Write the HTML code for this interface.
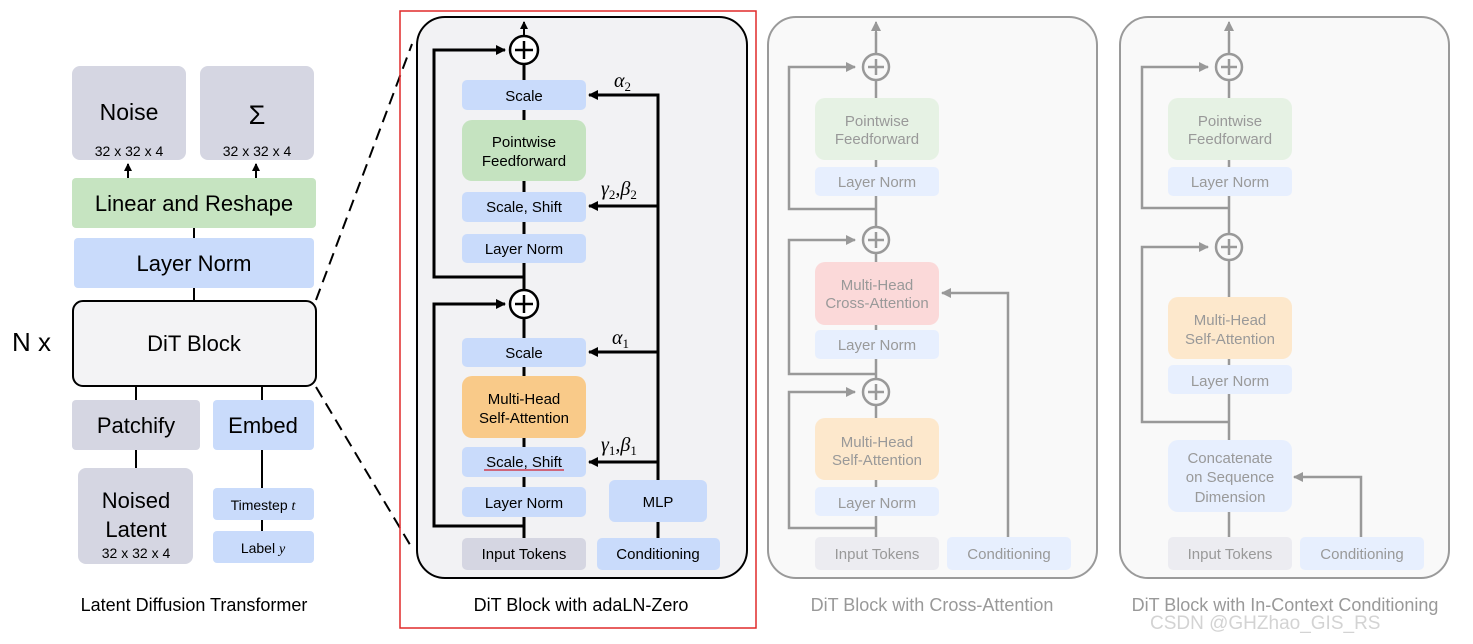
<!DOCTYPE html>
<html><head><meta charset="utf-8"><style>
html,body{margin:0;padding:0;background:#fff;}
svg{display:block;font-family:"Liberation Sans",Arial,sans-serif;}
</style></head><body>
<svg width="1473" height="644" viewBox="0 0 1473 644" xmlns="http://www.w3.org/2000/svg">
<defs>
<marker id="ab" markerWidth="8" markerHeight="8" refX="7" refY="4" orient="auto" markerUnits="userSpaceOnUse"><path d="M0,0 L8,4 L0,8 z" fill="#000"/></marker>
<marker id="ag" markerWidth="10" markerHeight="10" refX="9" refY="5" orient="auto" markerUnits="userSpaceOnUse"><path d="M0,0 L10,5 L0,10 z" fill="#999"/></marker>
<marker id="ak" markerWidth="10" markerHeight="10" refX="9" refY="5" orient="auto" markerUnits="userSpaceOnUse"><path d="M0,0 L10,5 L0,10 z" fill="#000"/></marker>
</defs>

<!-- LEFT PANEL -->
<g stroke="#000" stroke-width="2" fill="none">
<line x1="128" y1="178" x2="128" y2="164" marker-end="url(#ab)"/>
<line x1="256" y1="178" x2="256" y2="164" marker-end="url(#ab)"/>
<line x1="194" y1="228" x2="194" y2="238"/>
<line x1="194" y1="288" x2="194" y2="301"/>
<line x1="136" y1="386" x2="136" y2="468"/>
<line x1="262" y1="386" x2="262" y2="531"/>
</g>
<rect x="72" y="66" width="114" height="94" rx="8" fill="#d5d6e2"/>
<rect x="200" y="66" width="114" height="94" rx="8" fill="#d5d6e2"/>
<text x="129" y="120" font-size="23" text-anchor="middle">Noise</text>
<text x="129" y="156" font-size="14" text-anchor="middle">32 x 32 x 4</text>
<text x="257" y="124" font-size="27" text-anchor="middle">Σ</text>
<text x="257" y="156" font-size="14" text-anchor="middle">32 x 32 x 4</text>
<rect x="72" y="178" width="244" height="50" rx="4" fill="#c6e4c1"/>
<text x="194" y="211" font-size="22" text-anchor="middle">Linear and Reshape</text>
<rect x="74" y="238" width="240" height="50" rx="4" fill="#c9dbfb"/>
<text x="194" y="271" font-size="22" text-anchor="middle">Layer Norm</text>
<rect x="73" y="301" width="243" height="85" rx="10" fill="#f3f3f5" stroke="#000" stroke-width="2"/>
<text x="194" y="351" font-size="22" text-anchor="middle">DiT Block</text>
<text x="12" y="351" font-size="26">N x</text>
<rect x="72" y="400" width="128" height="50" rx="4" fill="#d5d6e2"/>
<text x="136" y="433" font-size="22" text-anchor="middle">Patchify</text>
<rect x="213" y="400" width="101" height="50" rx="4" fill="#c9dbfb"/>
<text x="263" y="433" font-size="22" text-anchor="middle">Embed</text>
<rect x="78" y="468" width="115" height="96" rx="8" fill="#d5d6e2"/>
<text x="136" y="508" font-size="22" text-anchor="middle">Noised</text>
<text x="136" y="537" font-size="22" text-anchor="middle">Latent</text>
<text x="136" y="558" font-size="14" text-anchor="middle">32 x 32 x 4</text>
<rect x="213" y="488" width="101" height="32" rx="4" fill="#c9dbfb"/>
<text x="263" y="510" font-size="14" text-anchor="middle">Timestep <tspan font-family="Liberation Serif" font-style="italic">t</tspan></text>
<rect x="213" y="531" width="101" height="32" rx="4" fill="#c9dbfb"/>
<text x="263" y="553" font-size="14" text-anchor="middle">Label <tspan font-family="Liberation Serif" font-style="italic">y</tspan></text>
<text x="194" y="611" font-size="18" text-anchor="middle">Latent Diffusion Transformer</text>
<line x1="316" y1="300" x2="412" y2="44" stroke="#000" stroke-width="2" stroke-dasharray="12,7"/>
<line x1="316" y1="387" x2="412" y2="548" stroke="#000" stroke-width="2" stroke-dasharray="12,7"/>

<!-- adaLN-Zero -->
<rect x="400" y="11" width="356" height="617" fill="none" stroke="#e02a2a" stroke-width="1.5"/>
<rect x="417" y="17" width="330" height="561" rx="28" fill="#f2f2f4" stroke="#000" stroke-width="2"/>
<g stroke="#000" stroke-width="3" fill="none">
<line x1="524" y1="538" x2="524" y2="36"/>
<line x1="524" y1="36" x2="524" y2="22" stroke-width="2" marker-end="url(#ab)"/>
<polyline points="524,277 434,277 434,50 505,50" marker-end="url(#ak)"/>
<polyline points="524,526 434,526 434,304 505,304" marker-end="url(#ak)"/>
<polyline points="658,480 658,95 589,95" marker-end="url(#ak)"/>
<line x1="658" y1="206" x2="589" y2="206" marker-end="url(#ak)"/>
<line x1="658" y1="352" x2="589" y2="352" marker-end="url(#ak)"/>
<line x1="658" y1="462" x2="589" y2="462" marker-end="url(#ak)"/>
<line x1="658" y1="522" x2="658" y2="538"/>
</g>
<g stroke="#000" stroke-width="2.5" fill="#fff">
<circle cx="524" cy="50" r="14"/><circle cx="524" cy="304" r="14"/>
</g>
<g stroke="#000" stroke-width="2.5">
<line x1="515" y1="50" x2="533" y2="50"/><line x1="524" y1="41" x2="524" y2="59"/>
<line x1="515" y1="304" x2="533" y2="304"/><line x1="524" y1="295" x2="524" y2="313"/>
</g>
<g font-size="15" text-anchor="middle">
<rect x="462" y="80" width="124" height="30" rx="5" fill="#c9dbfb"/><text x="524" y="101">Scale</text>
<rect x="462" y="120" width="124" height="61" rx="10" fill="#c5e3c0"/><text x="524" y="147">Pointwise</text><text x="524" y="166">Feedforward</text>
<rect x="462" y="192" width="124" height="30" rx="5" fill="#c9dbfb"/><text x="524" y="212">Scale, Shift</text>
<rect x="462" y="234" width="124" height="29" rx="5" fill="#c9dbfb"/><text x="524" y="254">Layer Norm</text>
<rect x="462" y="338" width="124" height="29" rx="5" fill="#c9dbfb"/><text x="524" y="358">Scale</text>
<rect x="462" y="376" width="124" height="62" rx="10" fill="#f9ca89"/><text x="524" y="404">Multi-Head</text><text x="524" y="423">Self-Attention</text>
<rect x="462" y="447" width="124" height="30" rx="5" fill="#c9dbfb"/><text x="524" y="467">Scale, Shift</text>
<line x1="484" y1="470" x2="564" y2="470" stroke="#d04050" stroke-width="1.5"/>
<rect x="462" y="487" width="124" height="30" rx="5" fill="#c9dbfb"/><text x="524" y="508">Layer Norm</text>
<rect x="609" y="480" width="98" height="42" rx="6" fill="#c9dbfb"/><text x="658" y="507">MLP</text>
<rect x="462" y="538" width="124" height="32" rx="5" fill="#d5d6e2"/><text x="524" y="559">Input Tokens</text>
<rect x="597" y="538" width="123" height="32" rx="5" fill="#c9dbfb"/><text x="658" y="559">Conditioning</text>
</g>
<g font-family="Liberation Serif" font-style="italic" font-size="20">
<text x="614" y="87">α<tspan font-size="13" font-style="normal" dy="4">2</tspan></text>
<text x="601" y="195">γ<tspan font-size="13" font-style="normal" dy="4">2</tspan><tspan dy="-4">,β</tspan><tspan font-size="13" font-style="normal" dy="4">2</tspan></text>
<text x="612" y="344">α<tspan font-size="13" font-style="normal" dy="4">1</tspan></text>
<text x="601" y="451">γ<tspan font-size="13" font-style="normal" dy="4">1</tspan><tspan dy="-4">,β</tspan><tspan font-size="13" font-style="normal" dy="4">1</tspan></text>
</g>
<text x="581" y="611" font-size="18" text-anchor="middle">DiT Block with adaLN-Zero</text>

<!-- Cross-Attention -->
<rect x="768" y="17" width="329" height="561" rx="28" fill="#f9f9f9" stroke="#9a9a9a" stroke-width="2"/>
<g stroke="#999" stroke-width="2.5" fill="none">
<line x1="876" y1="537" x2="876" y2="32"/>
<line x1="876" y1="32" x2="876" y2="22" stroke-width="2" marker-end="url(#ag)"/>
<polyline points="876,209 789,209 789,67 855,67" marker-end="url(#ag)"/>
<polyline points="876,374 789,374 789,240 855,240" marker-end="url(#ag)"/>
<polyline points="876,528 789,528 789,392 855,392" marker-end="url(#ag)"/>
<polyline points="1008,537 1008,293 942,293" marker-end="url(#ag)"/>
</g>
<g stroke="#999" stroke-width="2.5" fill="#f9f9f9">
<circle cx="876" cy="67" r="13"/><circle cx="876" cy="240" r="13"/><circle cx="876" cy="392" r="13"/>
</g>
<g stroke="#999" stroke-width="2.5">
<line x1="868" y1="67" x2="884" y2="67"/><line x1="876" y1="59" x2="876" y2="75"/>
<line x1="868" y1="240" x2="884" y2="240"/><line x1="876" y1="232" x2="876" y2="248"/>
<line x1="868" y1="392" x2="884" y2="392"/><line x1="876" y1="384" x2="876" y2="400"/>
</g>
<g font-size="15" text-anchor="middle" fill="#999">
<rect x="815" y="98" width="124" height="62" rx="10" fill="#e6f2e4"/><text x="877" y="126">Pointwise</text><text x="877" y="144">Feedforward</text>
<rect x="815" y="167" width="124" height="29" rx="5" fill="#e7effe"/><text x="877" y="187">Layer Norm</text>
<rect x="815" y="262" width="124" height="63" rx="10" fill="#fbd9d9"/><text x="877" y="290">Multi-Head</text><text x="877" y="308">Cross-Attention</text>
<rect x="815" y="330" width="124" height="29" rx="5" fill="#e7effe"/><text x="877" y="350">Layer Norm</text>
<rect x="815" y="418" width="124" height="62" rx="10" fill="#fde8cc"/><text x="877" y="447">Multi-Head</text><text x="877" y="465">Self-Attention</text>
<rect x="815" y="487" width="124" height="29" rx="5" fill="#e7effe"/><text x="877" y="508">Layer Norm</text>
<rect x="815" y="537" width="124" height="33" rx="5" fill="#ececf1"/><text x="877" y="559">Input Tokens</text>
<rect x="947" y="537" width="124" height="33" rx="5" fill="#e7effe"/><text x="1009" y="559">Conditioning</text>
</g>
<text x="932" y="611" font-size="18" text-anchor="middle" fill="#999">DiT Block with Cross-Attention</text>

<!-- In-Context -->
<rect x="1120" y="17" width="329" height="561" rx="28" fill="#f9f9f9" stroke="#9a9a9a" stroke-width="2"/>
<g stroke="#999" stroke-width="2.5" fill="none">
<line x1="1229" y1="537" x2="1229" y2="32"/>
<line x1="1229" y1="32" x2="1229" y2="22" stroke-width="2" marker-end="url(#ag)"/>
<polyline points="1229,208 1142,208 1142,67 1208,67" marker-end="url(#ag)"/>
<polyline points="1229,422 1142,422 1142,247 1208,247" marker-end="url(#ag)"/>
<polyline points="1361,537 1361,477 1294,477" marker-end="url(#ag)"/>
</g>
<g stroke="#999" stroke-width="2.5" fill="#f9f9f9">
<circle cx="1229" cy="67" r="13"/><circle cx="1229" cy="247" r="13"/>
</g>
<g stroke="#999" stroke-width="2.5">
<line x1="1221" y1="67" x2="1237" y2="67"/><line x1="1229" y1="59" x2="1229" y2="75"/>
<line x1="1221" y1="247" x2="1237" y2="247"/><line x1="1229" y1="239" x2="1229" y2="255"/>
</g>
<g font-size="15" text-anchor="middle" fill="#999">
<rect x="1168" y="98" width="124" height="62" rx="10" fill="#e6f2e4"/><text x="1230" y="126">Pointwise</text><text x="1230" y="144">Feedforward</text>
<rect x="1168" y="167" width="124" height="29" rx="5" fill="#e7effe"/><text x="1230" y="187">Layer Norm</text>
<rect x="1168" y="297" width="124" height="62" rx="10" fill="#fde8cc"/><text x="1230" y="325">Multi-Head</text><text x="1230" y="344">Self-Attention</text>
<rect x="1168" y="365" width="124" height="29" rx="5" fill="#e7effe"/><text x="1230" y="386">Layer Norm</text>
<rect x="1168" y="440" width="124" height="72" rx="10" fill="#e7effe"/><text x="1230" y="463">Concatenate</text><text x="1230" y="482">on Sequence</text><text x="1230" y="502">Dimension</text>
<rect x="1168" y="537" width="124" height="33" rx="5" fill="#ececf1"/><text x="1230" y="559">Input Tokens</text>
<rect x="1300" y="537" width="124" height="33" rx="5" fill="#e7effe"/><text x="1362" y="559">Conditioning</text>
</g>
<text x="1285" y="611" font-size="18" text-anchor="middle" fill="#999">DiT Block with In-Context Conditioning</text>
<text x="1150" y="629" font-size="19" fill="#c8c8c8" fill-opacity="0.8">CSDN @GHZhao_GIS_RS</text>
</svg>
</body></html>
